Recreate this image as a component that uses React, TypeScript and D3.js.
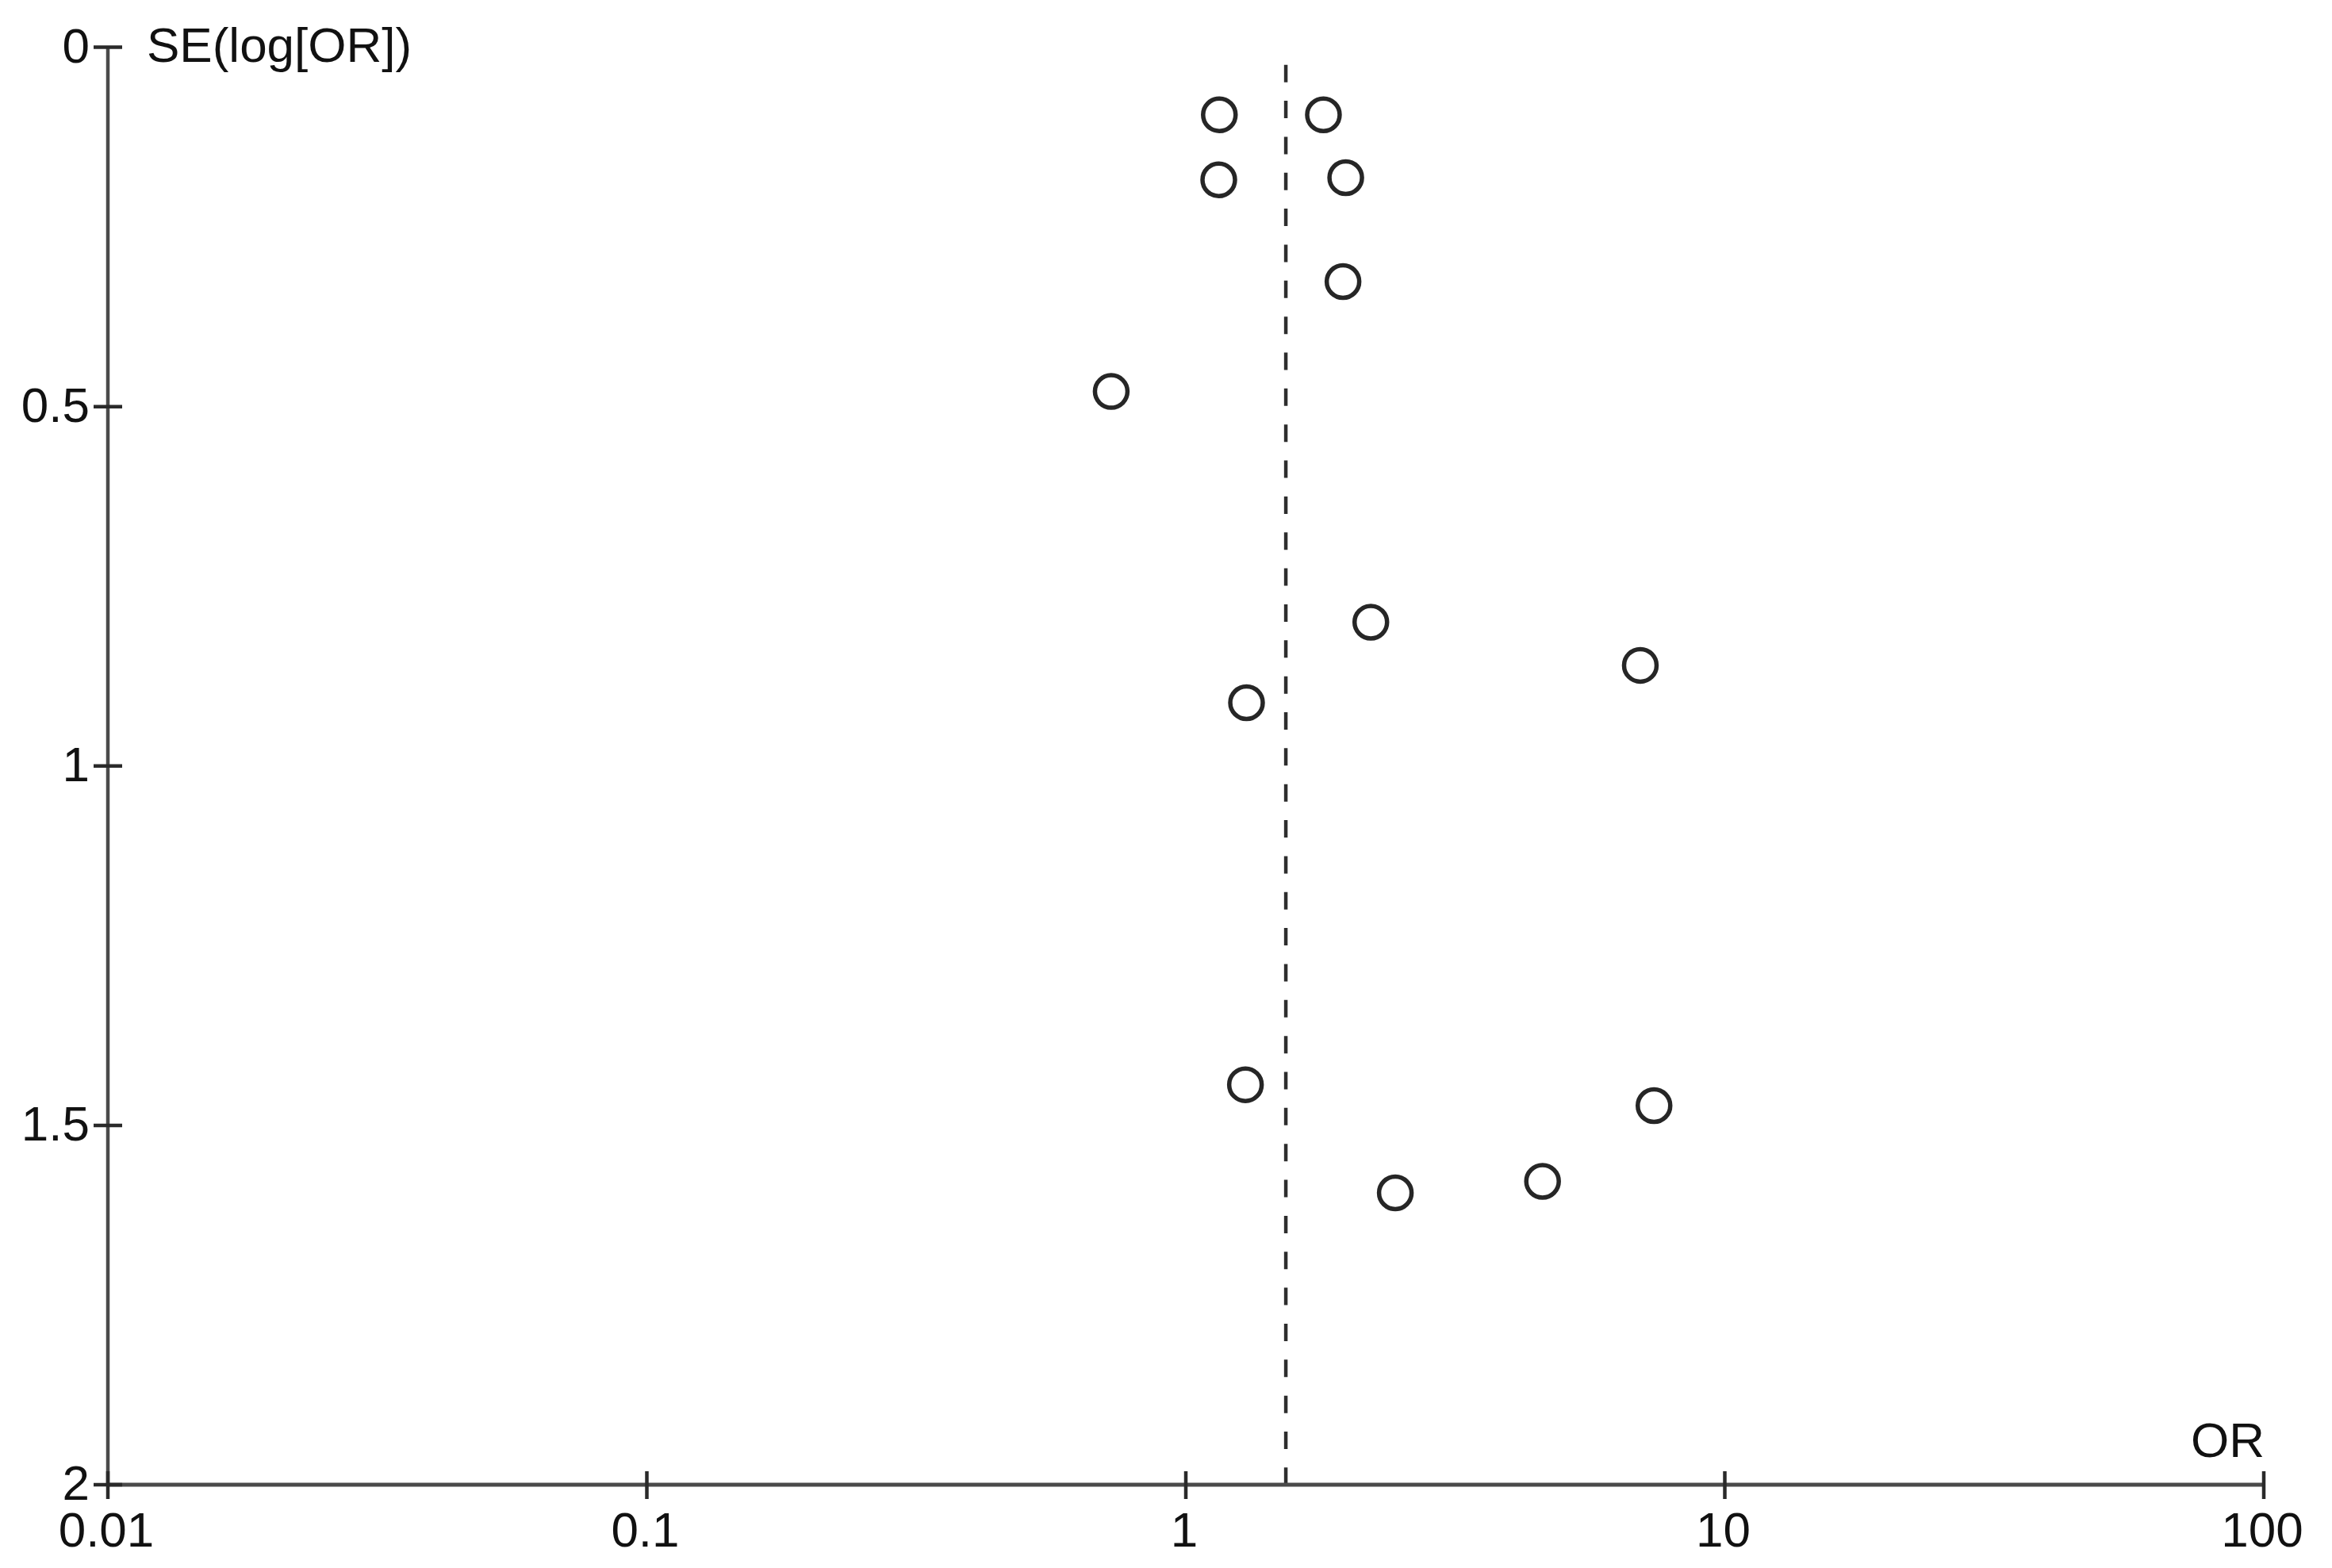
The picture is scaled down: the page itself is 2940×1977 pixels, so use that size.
import React from "react";
import * as d3 from "d3";

// Study odds ratios and their standard errors (log scale)
const orValues = [1.154, 1.8, 1.151, 1.98, 1.957, 0.727, 2.204, 6.97, 1.296, 1.29, 7.39, 2.447, 4.59];
const seValues = [0.094, 0.094, 0.1845, 0.1815, 0.326, 0.479, 0.8, 0.86, 0.912, 1.4435, 1.4725, 1.594, 1.578];
const pooledOR = 1.533;
const pooledLineTopSE = 0.0245;

const xTicks = [0.01, 0.1, 1, 10, 100];
const xTickLabels = ["0.01", "0.1", "1", "10", "100"];
const yTicks = [0, 0.5, 1, 1.5, 2];
const yTickLabels = ["0", "0.5", "1", "1.5", "2"];
const yTitle = "SE(log[OR])";
const xTitle = "OR";

const W = 2940;
const H = 1977;
const FONT = "'Liberation Sans', Arial, Helvetica, sans-serif";

export default function App() {
  const x = d3.scaleLog().domain([0.01, 100]).range([136, 2854]);
  const y = d3.scaleLinear().domain([0, 2]).range([59.5, 1872]);
  const axisColor = "#4a4a4a";
  const tickColor = "#2a2a2a";
  const fs = 62;

  const points = orValues.map((o, i) => ({ or: o, se: seValues[i] }));

  return (
    <svg
      width={W}
      height={H}
      style={{ position: "absolute", left: 0, top: 0, background: "#fff" }}
      xmlns="http://www.w3.org/2000/svg"
    >
      <rect x={0} y={0} width={W} height={H} fill="#fff" />
      {/* pooled estimate dashed line */}
      <line
        x1={x(pooledOR)}
        x2={x(pooledOR)}
        y1={y(pooledLineTopSE)}
        y2={y(2)}
        stroke="#2e2e2e"
        strokeWidth={4.5}
        strokeDasharray="22 23.35"
      />
      {/* axes */}
      <line x1={x(0.01)} x2={x(0.01)} y1={y(0)} y2={y(2)} stroke={axisColor} strokeWidth={4.5} />
      <line x1={x(0.01)} x2={x(100)} y1={y(2)} y2={y(2)} stroke={axisColor} strokeWidth={5} />
      {yTicks.map((t, i) => (
        <g key={"yt" + i}>
          <line x1={x(0.01) - 18} x2={x(0.01) + 18} y1={y(t)} y2={y(t)} stroke={tickColor} strokeWidth={4.5} />
          <text
            x={113}
            y={y(t) + 19}
            textAnchor="end"
            fontFamily={FONT}
            fontSize={fs}
            fill="#111"
          >
            {yTickLabels[i]}
          </text>
        </g>
      ))}
      {xTicks.map((t, i) => (
        <g key={"xt" + i}>
          <line x1={x(t)} x2={x(t)} y1={y(2) - 17} y2={y(2) + 18} stroke={tickColor} strokeWidth={4.5} />
          <text
            x={x(t) - 2}
            y={1950}
            textAnchor="middle"
            fontFamily={FONT}
            fontSize={fs}
            fill="#111"
          >
            {xTickLabels[i]}
          </text>
        </g>
      ))}
      <text x={185} y={78} fontFamily={FONT} fontSize={fs} fill="#111">
        {yTitle}
      </text>
      <text x={2855} y={1837} textAnchor="end" fontFamily={FONT} fontSize={fs} fill="#111">
        {xTitle}
      </text>
      {points.map((p, i) => (
        <circle
          key={"p" + i}
          cx={x(p.or)}
          cy={y(p.se)}
          r={20.5}
          fill="none"
          stroke="#262626"
          strokeWidth={5.5}
        />
      ))}
    </svg>
  );
}
